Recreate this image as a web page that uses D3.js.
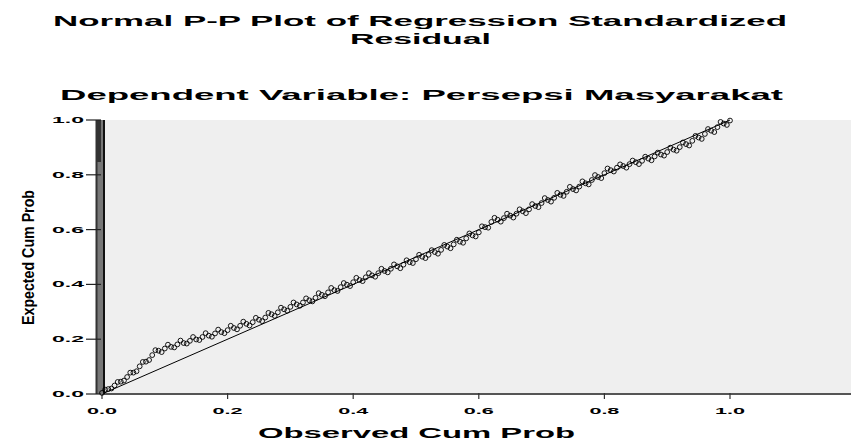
<!DOCTYPE html>
<html>
<head>
<meta charset="utf-8">
<script src="https://cdn.jsdelivr.net/npm/d3@7"></script>
<style>
  body { margin: 0; background: #fff; }
  svg { display: block; font-family: "Liberation Sans", Arial, sans-serif; }
</style>
</head>
<body>
<svg id="pp" width="851" height="441"></svg>
<script>
// observed cumulative probability (x) and expected cumulative probability (y)
const observed = [
  0.00, 0.01, 0.02, 0.03, 0.04, 0.05, 0.06, 0.07, 0.08, 0.09,
  0.10, 0.11, 0.12, 0.13, 0.14, 0.15, 0.16, 0.17, 0.18, 0.19,
  0.20, 0.21, 0.22, 0.23, 0.24, 0.25, 0.26, 0.27, 0.28, 0.29,
  0.30, 0.31, 0.32, 0.33, 0.34, 0.35, 0.36, 0.37, 0.38, 0.39,
  0.40, 0.41, 0.42, 0.43, 0.44, 0.45, 0.46, 0.47, 0.48, 0.49,
  0.50, 0.51, 0.52, 0.53, 0.54, 0.55, 0.56, 0.57, 0.58, 0.59,
  0.60, 0.61, 0.62, 0.63, 0.64, 0.65, 0.66, 0.67, 0.68, 0.69,
  0.70, 0.71, 0.72, 0.73, 0.74, 0.75, 0.76, 0.77, 0.78, 0.79,
  0.80, 0.81, 0.82, 0.83, 0.84, 0.85, 0.86, 0.87, 0.88, 0.89,
  0.90, 0.91, 0.92, 0.93, 0.94, 0.95, 0.96, 0.97, 0.98, 0.99,
  1.00,
  0.005, 0.015, 0.025, 0.035, 0.045, 0.055, 0.065, 0.075, 0.085, 0.095,
  0.105, 0.115, 0.125, 0.135, 0.145, 0.155, 0.165, 0.175, 0.185, 0.195,
  0.205, 0.215, 0.225, 0.235, 0.245, 0.255, 0.265, 0.275, 0.285, 0.295,
  0.305, 0.315, 0.325, 0.335, 0.345, 0.355, 0.365, 0.375, 0.385, 0.395,
  0.405, 0.415, 0.425, 0.435, 0.445, 0.455, 0.465, 0.475, 0.485, 0.495,
  0.505, 0.515, 0.525, 0.535, 0.545, 0.555, 0.565, 0.575, 0.585, 0.595,
  0.605, 0.615, 0.625, 0.635, 0.645, 0.655, 0.665, 0.675, 0.685, 0.695,
  0.705, 0.715, 0.725, 0.735, 0.745, 0.755, 0.765, 0.775, 0.785, 0.795,
  0.805, 0.815, 0.825, 0.835, 0.845, 0.855, 0.865, 0.875, 0.885, 0.895,
  0.905, 0.915, 0.925, 0.935, 0.945, 0.955, 0.965, 0.975, 0.985, 0.995
];
const expected = [
  0.004, 0.018, 0.031, 0.045, 0.062, 0.078, 0.101, 0.118, 0.142, 0.158,
  0.166, 0.172, 0.181, 0.186, 0.194, 0.199, 0.208, 0.213, 0.221, 0.226,
  0.233, 0.241, 0.249, 0.256, 0.262, 0.271, 0.279, 0.291, 0.298, 0.309,
  0.318, 0.327, 0.334, 0.342, 0.351, 0.362, 0.371, 0.379, 0.390, 0.399,
  0.408, 0.416, 0.426, 0.433, 0.441, 0.449, 0.457, 0.466, 0.472, 0.481,
  0.492, 0.501, 0.508, 0.518, 0.526, 0.538, 0.546, 0.556, 0.568, 0.579,
  0.590, 0.609, 0.628, 0.636, 0.642, 0.651, 0.658, 0.667, 0.674, 0.686,
  0.697, 0.708, 0.716, 0.727, 0.738, 0.748, 0.757, 0.769, 0.781, 0.792,
  0.806, 0.817, 0.826, 0.832, 0.839, 0.846, 0.851, 0.859, 0.867, 0.874,
  0.883, 0.892, 0.901, 0.912, 0.924, 0.936, 0.949, 0.961, 0.974, 0.987,
  0.998,
  0.016, 0.020, 0.044, 0.049, 0.078, 0.083, 0.117, 0.124, 0.160, 0.153,
  0.180, 0.170, 0.195, 0.184, 0.208, 0.197, 0.222, 0.209, 0.235, 0.222,
  0.249, 0.236, 0.264, 0.250, 0.278, 0.266, 0.296, 0.285, 0.315, 0.304,
  0.334, 0.322, 0.349, 0.338, 0.368, 0.357, 0.387, 0.376, 0.405, 0.394,
  0.424, 0.412, 0.441, 0.428, 0.457, 0.444, 0.473, 0.459, 0.488, 0.478,
  0.508, 0.496, 0.525, 0.512, 0.544, 0.532, 0.563, 0.552, 0.586, 0.575,
  0.612, 0.607, 0.643, 0.629, 0.658, 0.644, 0.674, 0.660, 0.693, 0.682,
  0.715, 0.702, 0.734, 0.723, 0.756, 0.743, 0.776, 0.765, 0.799, 0.788,
  0.823, 0.812, 0.838, 0.826, 0.852, 0.839, 0.866, 0.853, 0.881, 0.870,
  0.899, 0.888, 0.918, 0.907, 0.942, 0.931, 0.967, 0.956, 0.993, 0.982
];
const ticks = [0, 0.2, 0.4, 0.6, 0.8, 1.0];
const tickLabels = ["0.0", "0.2", "0.4", "0.6", "0.8", "1.0"];

const svg = d3.select("#pp");
const x = d3.scaleLinear().domain([0, 1]).range([102, 730]);
const y = d3.scaleLinear().domain([0, 1]).range([394, 120]);

// titles (stretched wide like the original export)
const titles = [
  { t: "Normal P-P Plot of Regression Standardized", x: 53, y: 26, w: 734 },
  { t: "Residual", x: 350, y: 44, w: 141 },
  { t: "Dependent Variable: Persepsi Masyarakat", x: 60, y: 100, w: 723 }
];
svg.selectAll("text.title")
  .data(titles)
  .join("text")
  .attr("class", "title")
  .attr("x", d => d.x)
  .attr("y", d => d.y)
  .attr("textLength", d => d.w)
  .attr("lengthAdjust", "spacingAndGlyphs")
  .attr("font-size", 14)
  .attr("font-weight", "bold")
  .text(d => d.t);

// plot background
svg.append("rect")
  .attr("x", 105).attr("y", 120)
  .attr("width", 851 - 105).attr("height", 394 - 120)
  .attr("fill", "#efefef");

// diagonal reference line
svg.append("line")
  .attr("x1", x(0)).attr("y1", y(0))
  .attr("x2", x(1)).attr("y2", y(1))
  .attr("stroke", "#000").attr("stroke-width", 1);

// x axis
svg.append("line")
  .attr("x1", 102).attr("x2", 851)
  .attr("y1", 394).attr("y2", 394)
  .attr("stroke", "#555").attr("stroke-width", 2);
svg.selectAll("line.xtick")
  .data(ticks)
  .join("line")
  .attr("class", "xtick")
  .attr("x1", d => x(d)).attr("x2", d => x(d))
  .attr("y1", 393).attr("y2", 399)
  .attr("stroke", "#333").attr("stroke-width", 1.2);
svg.selectAll("text.xlab")
  .data(ticks)
  .join("text")
  .attr("class", "xlab")
  .attr("x", d => x(d) - 15)
  .attr("y", 414)
  .attr("textLength", 30)
  .attr("lengthAdjust", "spacingAndGlyphs")
  .attr("font-size", 9)
  .attr("font-weight", "bold")
  .text((d, i) => tickLabels[i]);

// y axis: thick bar
svg.append("rect")
  .attr("x", 96).attr("y", 120)
  .attr("width", 9).attr("height", 274)
  .attr("fill", "#777");
svg.append("line")
  .attr("x1", 96.5).attr("x2", 96.5).attr("y1", 120).attr("y2", 394)
  .attr("stroke", "#333").attr("stroke-width", 2);
svg.append("line")
  .attr("x1", 104).attr("x2", 104).attr("y1", 120).attr("y2", 394)
  .attr("stroke", "#111").attr("stroke-width", 2);
svg.append("rect")
  .attr("x", 96).attr("y", 120)
  .attr("width", 5).attr("height", 42)
  .attr("fill", "#333");
svg.selectAll("line.ytick")
  .data(ticks)
  .join("line")
  .attr("class", "ytick")
  .attr("x1", 86).attr("x2", 101)
  .attr("y1", d => y(d)).attr("y2", d => y(d))
  .attr("stroke", "#222").attr("stroke-width", 1.2);
svg.selectAll("text.ylab")
  .data(ticks)
  .join("text")
  .attr("class", "ylab")
  .attr("x", 52)
  .attr("y", d => y(d) + 3)
  .attr("textLength", 32)
  .attr("lengthAdjust", "spacingAndGlyphs")
  .attr("font-size", 9)
  .attr("font-weight", "bold")
  .text((d, i) => tickLabels[i]);

// axis titles
svg.append("text")
  .attr("x", 258).attr("y", 438)
  .attr("textLength", 317)
  .attr("lengthAdjust", "spacingAndGlyphs")
  .attr("font-size", 14)
  .attr("font-weight", "bold")
  .text("Observed Cum Prob");
svg.append("text")
  .attr("transform", "translate(34,325) rotate(-90)")
  .attr("textLength", 135)
  .attr("lengthAdjust", "spacingAndGlyphs")
  .attr("font-size", 16)
  .attr("font-weight", "bold")
  .text("Expected Cum Prob");

// points
svg.selectAll("circle.pt")
  .data(observed.map((o, i) => [o, expected[i]]))
  .join("circle")
  .attr("class", "pt")
  .attr("cx", d => x(d[0]))
  .attr("cy", d => y(d[1]))
  .attr("r", 2.4)
  .attr("fill", "none")
  .attr("stroke", "#000")
  .attr("stroke-width", 0.9);
</script>
</body>
</html>
